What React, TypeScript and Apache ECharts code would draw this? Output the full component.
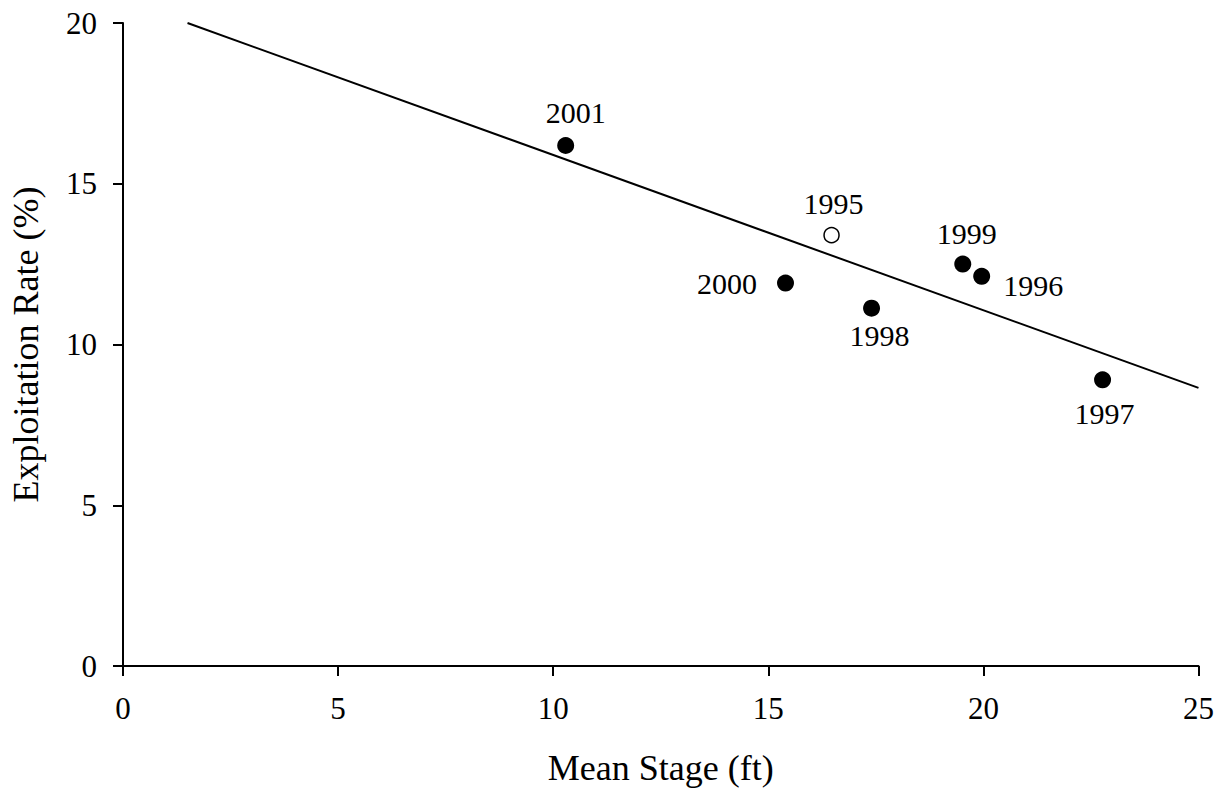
import React, { useEffect, useRef } from "react";
import * as echarts from "echarts";

// Data
const years = ["2001", "1995", "2000", "1998", "1999", "1996", "1997"];
const meanStage = [10.29, 16.47, 15.4, 17.4, 19.52, 19.96, 22.77];
const exploitationRate = [16.19, 13.4, 11.91, 11.13, 12.5, 12.12, 8.9];
const openYears = ["1995"];

// Fitted line end points
const trendX = [1.5, 25];
const trendY = [20, 8.65];

// Axis ticks
const xTicks = [0, 5, 10, 15, 20, 25];
const yTicks = [0, 5, 10, 15, 20];

// Label placement (layout only)
const labelPlacement: Record<string, { position: string; offset: number[] }> = {
  "2001": { position: "top", offset: [10, -1] },
  "1995": { position: "top", offset: [2, 0] },
  "2000": { position: "left", offset: [-12, 0] },
  "1998": { position: "bottom", offset: [8, -4] },
  "1999": { position: "top", offset: [4, 1] },
  "1996": { position: "right", offset: [5, 9] },
  "1997": { position: "bottom", offset: [2, 2] },
};

const FONT = "Liberation Serif";

export default function App() {
  const ref = useRef<HTMLDivElement>(null);
  useEffect(() => {
    if (!ref.current) return;
    const chart = echarts.init(ref.current, undefined, { renderer: "svg" });
    const points = years.map((y, i) => {
      const open = openYears.includes(y);
      const lp = labelPlacement[y];
      return {
        name: y,
        value: [meanStage[i], exploitationRate[i]],
        itemStyle: open
          ? { color: "#ffffff", borderColor: "#000000", borderWidth: 1.5, opacity: 1 }
          : { color: "#000000", borderColor: "#000000", borderWidth: 0, opacity: 1 },
        symbolSize: open ? 15 : 17,
        label: {
          show: true,
          formatter: y,
          position: lp.position,
          offset: lp.offset,
          distance: 8,
          color: "#000",
          fontFamily: FONT,
          fontSize: 30,
        },
      };
    });
    const axisCommon = {
      axisLine: { show: true, lineStyle: { color: "#000", width: 2 } },
      axisTick: { show: true, inside: false, length: 10, lineStyle: { color: "#000", width: 2 } },
      splitLine: { show: false },
      nameLocation: "middle",
      nameTextStyle: { color: "#000", fontFamily: FONT, fontSize: 36 },
    };
    chart.setOption({
      animation: false,
      backgroundColor: "#ffffff",
      grid: { left: 123, right: 18, top: 23, bottom: 123, containLabel: false },
      xAxis: {
        type: "value",
        min: xTicks[0],
        max: xTicks[xTicks.length - 1],
        interval: xTicks[1] - xTicks[0],
        name: "Mean Stage (ft)",
        nameGap: 84,
        ...axisCommon,
        axisLabel: { color: "#000", fontFamily: FONT, fontSize: 31, margin: 27 },
      },
      yAxis: {
        type: "value",
        min: yTicks[0],
        max: yTicks[yTicks.length - 1],
        interval: yTicks[1] - yTicks[0],
        name: "Exploitation Rate (%)",
        nameGap: 79,
        ...axisCommon,
        axisLabel: { color: "#000", fontFamily: FONT, fontSize: 31, margin: 26 },
      },
      series: [
        {
          type: "line",
          data: trendX.map((x, i) => [x, trendY[i]]),
          symbol: "none",
          lineStyle: { color: "#000", width: 2 },
          silent: true,
          z: 1,
        },
        {
          type: "scatter",
          data: points,
          symbol: "circle",
          itemStyle: { opacity: 1 },
          z: 3,
        },
      ],
    });
    return () => chart.dispose();
  }, []);
  return (
    <div
      ref={ref}
      style={{ position: "fixed", left: 0, top: 0, width: 1217, height: 791, background: "#fff" }}
    />
  );
}
